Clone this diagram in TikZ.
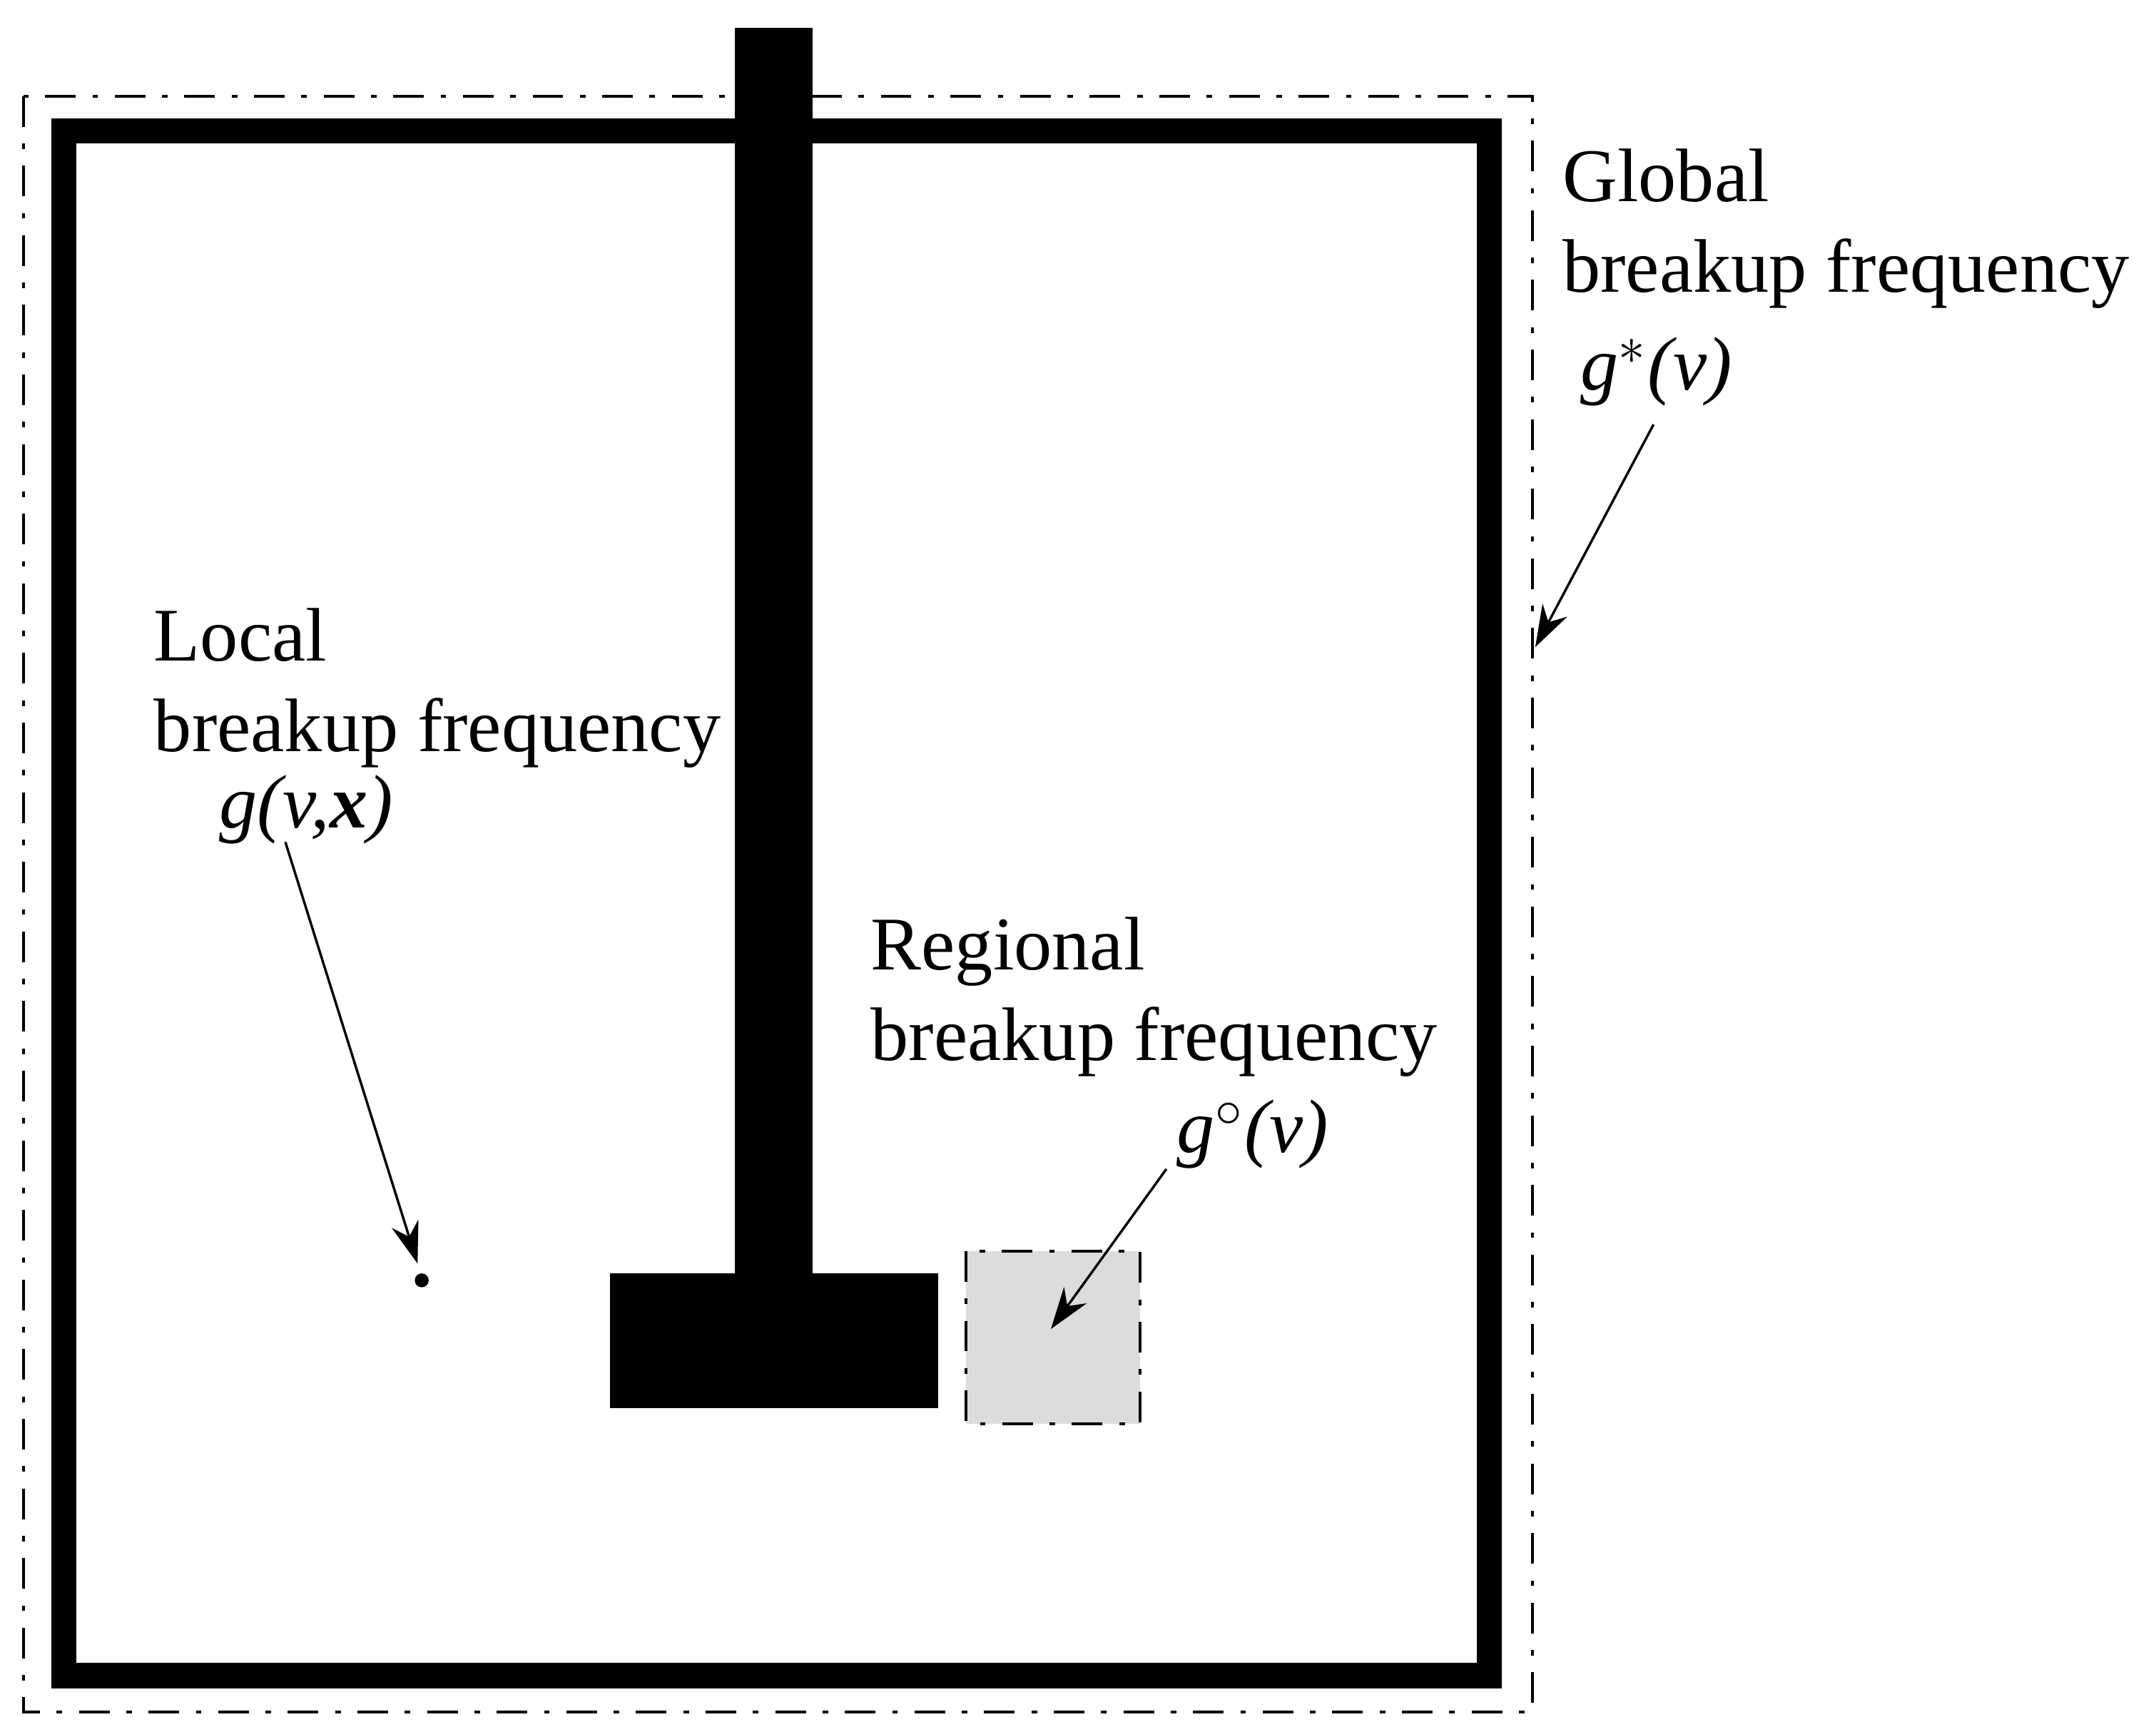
\documentclass[tikz,border=0pt]{standalone}
\usepackage{fontspec}
\setmainfont{Liberation Serif}
\usetikzlibrary{arrows.meta}
\begin{document}
\begin{tikzpicture}[x=0.01cm,y=-0.01cm,
  dd/.style={line width=0.6pt,dash pattern=on 2.2mm off 1.2mm on 0.4mm off 1.2mm},
  lbl/.style={anchor=base west,inner sep=0,font=\fontsize{15.5pt}{18pt}\selectfont},
  arr/.style={-{Stealth[length=3mm,width=2mm]},line width=0.5pt}]
\useasboundingbox (0,0) rectangle (1549,1237);
\draw[dd] (17,69) rectangle (1101,1230);
\draw[line width=0.18cm] (46,94) rectangle (1070,1204);
\fill (528,20) rectangle (584,916);
\fill (438,915) rectangle (674,1012);
\draw[dd,fill={rgb,255:red,220;green,220;blue,220}] (694,899) rectangle (819,1023);
\fill (303,920) circle (5);
\node[lbl] (gl1) at (1122,145) {Global};
\node[lbl] (gl2) at (1122,210) {breakup frequency};
\node[lbl] (gl3) at (1135,280) {\itshape g$^{*}$(v)};
\node[lbl] (lo1) at (110,475) {Local};
\node[lbl] (lo2) at (110,540) {breakup frequency};
\node[lbl] (lo3) at (157,595) {\itshape g(v,\textbf{x})};
\node[lbl] (re1) at (625,697) {Regional};
\node[lbl] (re2) at (625,762) {breakup frequency};
\node[lbl] (re3) at (845,828) {\itshape g$^{\circ}$(v)};
\coordinate (ga) at (1188,305); \coordinate (gb) at (1103,465);
\coordinate (la) at (205,605); \coordinate (lb) at (300,908);
\coordinate (ra) at (838,840); \coordinate (rb) at (755,955);
\draw[arr] (ga) -- (gb);
\draw[arr] (la) -- (lb);
\draw[arr] (ra) -- (rb);
\end{tikzpicture}
\end{document}
